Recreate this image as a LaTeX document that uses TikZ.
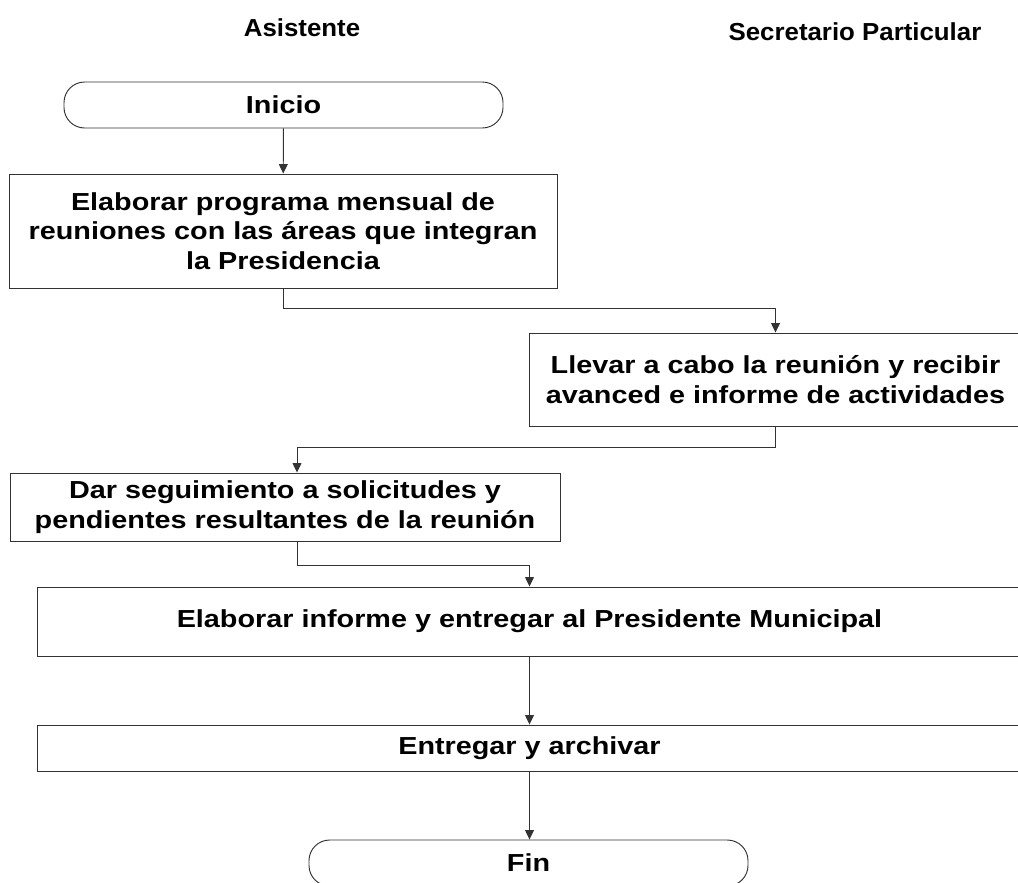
\documentclass[tikz,border=0pt]{standalone}
\usepackage{fontspec}
\setmainfont{Liberation Sans}
\newfontfamily\cajafont[FakeStretch=1.17]{Liberation Sans}
\newfontfamily\titulofont[FakeStretch=1.05]{Liberation Sans}
\usetikzlibrary{arrows.meta}
\definecolor{trazo}{HTML}{333333}

\begin{document}
\begin{tikzpicture}[
        x=0.03cm, y=-0.03cm,
        caja/.style={rectangle, draw=trazo, line width=0.8pt, fill=white, align=center, inner sep=2pt, font=\cajafont\bfseries\fontsize{21}{25}\selectfont},
        terminal/.style={caja, rounded corners=0.62cm, minimum width=13.17cm, minimum height=1.38cm},
        titulo/.style={font=\titulofont\bfseries\fontsize{21}{25}\selectfont},
        flecha/.style={-{Triangle[length=8pt,width=7.5pt]}, draw=trazo, line width=0.8pt}
      ]
        \useasboundingbox (0,0) rectangle (1018,882);
        \clip (0,0) rectangle (1018,882);
        % encabezados
        \node[titulo] (asis) at (302,28) {Asistente};
        \node[titulo] (secre) at (855,32) {Secretario Particular};
        % pasos
        \node[terminal] (inicio) at (283.5,105) {Inicio};
        \node[caja, minimum width=16.44cm, minimum height=3.42cm] (plan) at (283,231) {Elaborar programa mensual de\\reuniones con las áreas que integran\\la Presidencia};
        \node[caja, minimum width=14.79cm, minimum height=2.79cm] (reunion) at (775.5,379.5) {Llevar a cabo la reunión y recibir\\avanced e informe de actividades};
        \node[caja, minimum width=16.5cm, minimum height=2.04cm] (seguim) at (285,507) {Dar seguimiento a solicitudes y\\pendientes resultantes de la reunión};
        \node[caja, minimum width=29.55cm, minimum height=2.07cm] (informe) at (529.5,621.5) {Elaborar informe y entregar al Presidente Municipal};
        \node[caja, minimum width=29.55cm, minimum height=1.38cm] (archivo) at (529.5,748) {Entregar y archivar};
        \node[terminal] (fin) at (528.5,863) {Fin};
        % conectores
        \draw[flecha] (inicio) -- (plan);
        \draw[flecha] (plan.south) -- ++(0,20) -| (reunion.north);
        \draw[flecha] (reunion.south) -- ++(0,21) -| ([xshift=0.36cm]seguim.north);
        \draw[flecha] ([xshift=0.36cm]seguim.south) -- ++(0,24) -| (informe.north);
        \draw[flecha] (informe) -- (archivo);
        \draw[flecha] (archivo.south) -- (archivo.south |- fin.north);
      \end{tikzpicture}
\end{document}
